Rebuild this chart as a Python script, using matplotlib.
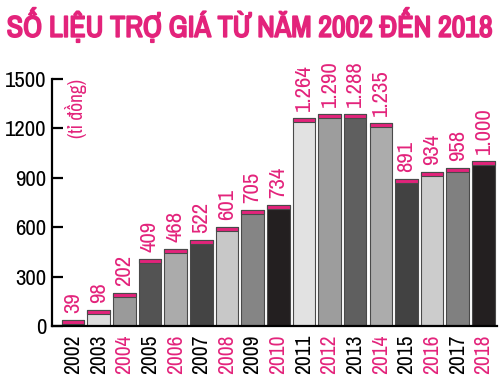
import matplotlib.pyplot as plt
from matplotlib import font_manager as fm
import matplotlib.patheffects as pe
import numpy as np

years = ['2002', '2003', '2004', '2005', '2006', '2007', '2008', '2009', '2010',
         '2011', '2012', '2013', '2014', '2015', '2016', '2017', '2018']
values = [39, 98, 202, 409, 468, 522, 601, 705, 734,
          1264, 1290, 1288, 1235, 891, 934, 958, 1000]
labels = ['39', '98', '202', '409', '468', '522', '601', '705', '734',
          '1.264', '1.290', '1.288', '1.235', '891', '934', '958', '1.000']
bar_colors = ['#231f20', '#dcdcdc', '#9a9a9a', '#535353', '#ababab', '#444444',
              '#c8c8c8', '#858585', '#231f20', '#e2e2e2', '#9d9d9d', '#5f5f5f',
              '#acacac', '#424242', '#cccccc', '#808080', '#231f20']
pink_years = ['2004', '2006', '2008', '2010', '2012', '2014', '2016', '2018']
yticks = [0, 300, 600, 900, 1200, 1500]

PINK = '#e3237b'

# look for a condensed face, otherwise use the narrowest plain one
names = sorted(set(f.name for f in fm.fontManager.ttflist))
narrow = [n for n in names if 'Narrow' in n or 'Condensed' in n]
cond = [f for f in fm.fontManager.ttflist
        if ('ondensed' in f.fname or 'Narrow' in f.fname) and 'Sans' in f.fname]
if narrow:
    fam, stretch, k = narrow[0], 'normal', 1.0
elif cond:
    fam, stretch, k = cond[0].name, 'condensed', 1.0
else:
    fam, stretch, k = 'Liberation Sans', 'normal', 0.82
plt.rcParams['font.family'] = [fam, 'DejaVu Sans']
plt.rcParams['font.stretch'] = stretch

fig = plt.figure(figsize=(5, 3.81), dpi=100)
ax = fig.add_axes([52 / 500, 55 / 381, 445 / 500, (326 - 79) / 381])

x = np.arange(len(years))
cap = 25
ax.bar(x, values, width=0.88, color=bar_colors, edgecolor='#4a4a4a', linewidth=0.8)
ax.bar(x, [cap] * len(x), bottom=np.array(values) - cap, width=0.88,
       color=PINK, edgecolor='#4a4a4a', linewidth=0.8)

for xi, v, lab in zip(x, values, labels):
    ax.annotate(lab, (xi, v), xytext=(0, 5), textcoords='offset points',
                rotation=90, ha='center', va='bottom', color=PINK, fontsize=16.5 * k)

ax.set_xlim(-0.82, 16.53)
ax.set_ylim(0, 1500)
ax.set_xticks(x)
ax.set_xticklabels(years, rotation=90, fontsize=15.5 * k)
for t in ax.get_xticklabels():
    if t.get_text() in pink_years:
        t.set_color(PINK)
ax.tick_params(axis='x', length=0, pad=6)
ax.set_yticks(yticks)
ax.set_yticklabels([str(t) for t in yticks], fontsize=16.5 * k)
ax.tick_params(axis='y', direction='in', length=8, width=1.6, pad=4)

for s in ['top', 'right']:
    ax.spines[s].set_visible(False)
ax.spines['left'].set_linewidth(1.6)
ax.spines['bottom'].set_linewidth(1.6)

ax.text(0.13, 1500, '(tỉ đồng)', rotation=90,
        ha='center', va='top', color=PINK, fontsize=14 * k)

fig.text(0.5, 0.935, 'SỐ LIỆU TRỢ GIÁ TỪ NĂM 2002 ĐẾN 2018', ha='center',
         va='center', color=PINK, fontsize=21.5 * k, fontweight='bold',
         path_effects=[pe.withStroke(linewidth=1.3, foreground=PINK)])

fig.savefig('out.png', dpi=100)
